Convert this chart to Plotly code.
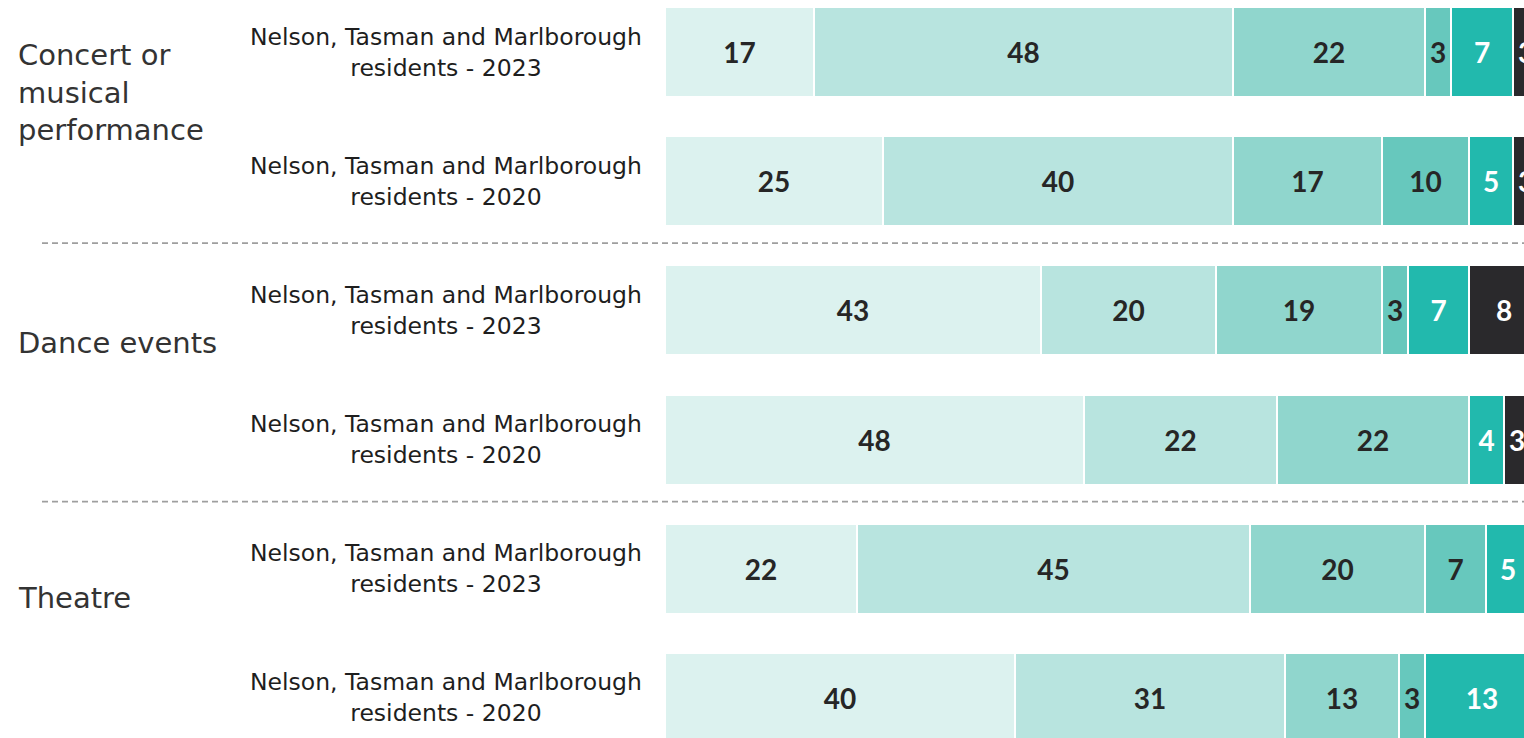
import plotly.graph_objects as go

# Rows, top to bottom
row_labels = [
    "Nelson, Tasman and Marlborough<br>residents - 2023",
    "Nelson, Tasman and Marlborough<br>residents - 2020",
    "Nelson, Tasman and Marlborough<br>residents - 2023",
    "Nelson, Tasman and Marlborough<br>residents - 2020",
    "Nelson, Tasman and Marlborough<br>residents - 2023",
    "Nelson, Tasman and Marlborough<br>residents - 2020",
]
groups = ["Concert or<br>musical<br>performance", "Dance events", "Theatre"]

# Percentage shares per response band (each list runs over the six rows)
band_1 = [17, 25, 43, 48, 22, 40]
band_2 = [48, 40, 20, 22, 45, 31]
band_3 = [22, 17, 19, 22, 20, 13]
band_4 = [3, 10, 3, 0, 7, 3]
band_5 = [7, 5, 7, 4, 5, 13]
band_6 = [3, 3, 8, 3, 1, 0]

bands = [band_1, band_2, band_3, band_4, band_5, band_6]
colors = ["#dcf2ef", "#b8e4df", "#90d6cd", "#67c8bd", "#22b9ad", "#2a292c"]
text_colors = ["#262626", "#262626", "#262626", "#262626", "#ffffff", "#ffffff"]

LABEL_FONT = "Century Gothic, DejaVu Sans, sans-serif"
NUM_FONT = "Century Gothic, Lato, sans-serif"
y_pos = list(range(len(row_labels)))

fig = go.Figure()
for vals, col, tcol in zip(bands, colors, text_colors):
    fig.add_trace(go.Bar(
        x=vals,
        y=y_pos,
        orientation="h",
        width=0.697,
        marker=dict(color=col, line=dict(color="#ffffff", width=2)),
        text=[str(v) if v > 0 else "" for v in vals],
        textposition="inside",
        insidetextanchor="middle",
        textangle=0,
        constraintext="none",
        textfont=dict(family=NUM_FONT, size=28, color=tcol, weight="bold"),
        hoverinfo="skip",
        showlegend=False,
        cliponaxis=True,
    ))

PLOT_LEFT = 665
PLOT_W = 1524 - PLOT_LEFT


def px_to_paper(px):
    return (px - PLOT_LEFT) / PLOT_W


annotations = []
for yv, lab in zip(y_pos, row_labels):
    annotations.append(dict(
        x=px_to_paper(446), xref="paper", y=yv, yref="y",
        text=lab, showarrow=False, xanchor="center", yanchor="middle",
        align="center", font=dict(family=LABEL_FONT, size=23.5, color="#1e1e1e"),
    ))

group_y = [0.317, 2.25, 4.23]
for gy, g in zip(group_y, groups):
    annotations.append(dict(
        x=px_to_paper(16), xref="paper", y=gy, yref="y",
        text=g, showarrow=False, xanchor="left", yanchor="middle",
        align="left", font=dict(family=LABEL_FONT, size=29, color="#333333"),
    ))

shapes = []
for sy in [1.48, 3.48]:
    shapes.append(dict(
        type="line", xref="paper", yref="y",
        x0=px_to_paper(42), x1=1.0, y0=sy, y1=sy,
        line=dict(color="#9e9e9e", width=1.8, dash="6px,4px"),
    ))

fig.update_layout(
    barmode="stack",
    width=1524,
    height=738,
    margin=dict(l=PLOT_LEFT, r=0, t=0, b=0),
    paper_bgcolor="#ffffff",
    plot_bgcolor="#ffffff",
    bargap=0,
    xaxis=dict(range=[0, 98.3], visible=False, fixedrange=True),
    yaxis=dict(range=[5.31, -0.4025], visible=False, fixedrange=True),
    annotations=annotations,
    shapes=shapes,
)

fig.write_html("out.html")
